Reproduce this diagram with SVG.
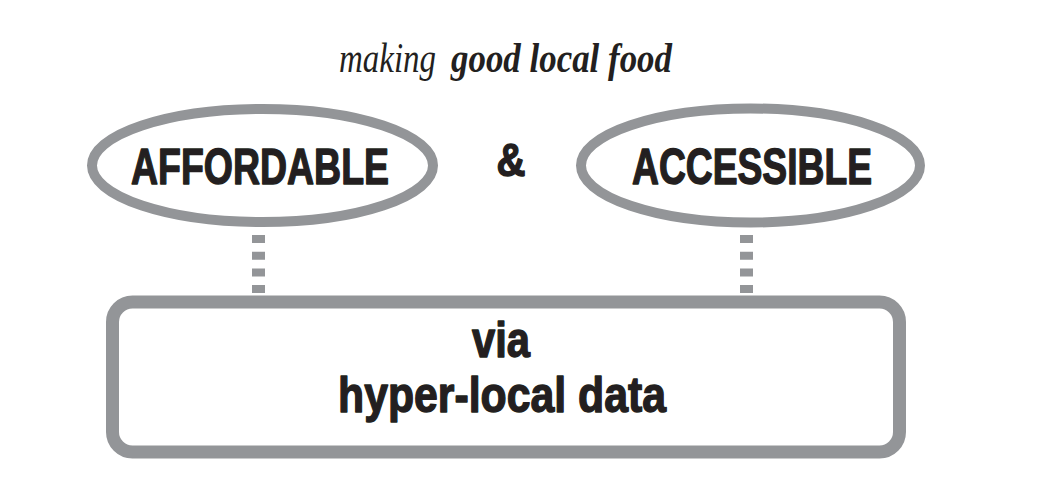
<svg xmlns="http://www.w3.org/2000/svg" width="1042" height="477" viewBox="0 0 1042 477">
<style>
.shape{fill:#ffffff;stroke:#939598;}
.lbl{font-family:"Liberation Sans",Arial,sans-serif;font-weight:bold;fill:#231f20;stroke:#231f20;stroke-width:1.4;stroke-linejoin:round;text-anchor:middle;}
.title{font-family:"Liberation Serif","Times New Roman",serif;font-style:italic;fill:#231f20;font-size:42px;}
.dots{stroke:#939598;stroke-width:13;stroke-dasharray:8 8.7;fill:none;}
</style>
<rect width="1042" height="477" fill="#ffffff"/>
<g id="title">
<text class="title" x="339" y="72" textLength="97" lengthAdjust="spacingAndGlyphs">making</text>
<text class="title" x="451" y="72" font-weight="bold" textLength="221" lengthAdjust="spacingAndGlyphs">good local food</text>
</g>
<g id="connectors">
<line class="dots" x1="258.5" y1="235" x2="258.5" y2="294"/>
<line class="dots" x1="746.5" y1="235" x2="746.5" y2="294"/>
</g>
<g id="affordable">
<ellipse class="shape" cx="262.5" cy="165.5" rx="170.5" ry="56.5" stroke-width="10"/>
<text class="lbl" x="260" y="183.5" font-size="50" textLength="258" lengthAdjust="spacingAndGlyphs">AFFORDABLE</text>
</g>
<g id="amp">
<text class="lbl" x="511" y="176" font-size="46" textLength="29" lengthAdjust="spacingAndGlyphs">&amp;</text>
</g>
<g id="accessible">
<ellipse class="shape" cx="750.5" cy="165.5" rx="169.5" ry="57" stroke-width="10"/>
<text class="lbl" x="752" y="183.5" font-size="50" textLength="240" lengthAdjust="spacingAndGlyphs">ACCESSIBLE</text>
</g>
<g id="data">
<rect class="shape" x="112.5" y="302" width="787" height="150" rx="20" ry="20" stroke-width="13"/>
<text class="lbl" x="501" y="357" font-size="50" textLength="58" lengthAdjust="spacingAndGlyphs">via</text>
<text class="lbl" x="502" y="412" font-size="50" textLength="328" lengthAdjust="spacingAndGlyphs">hyper-local data</text>
</g>
</svg>
